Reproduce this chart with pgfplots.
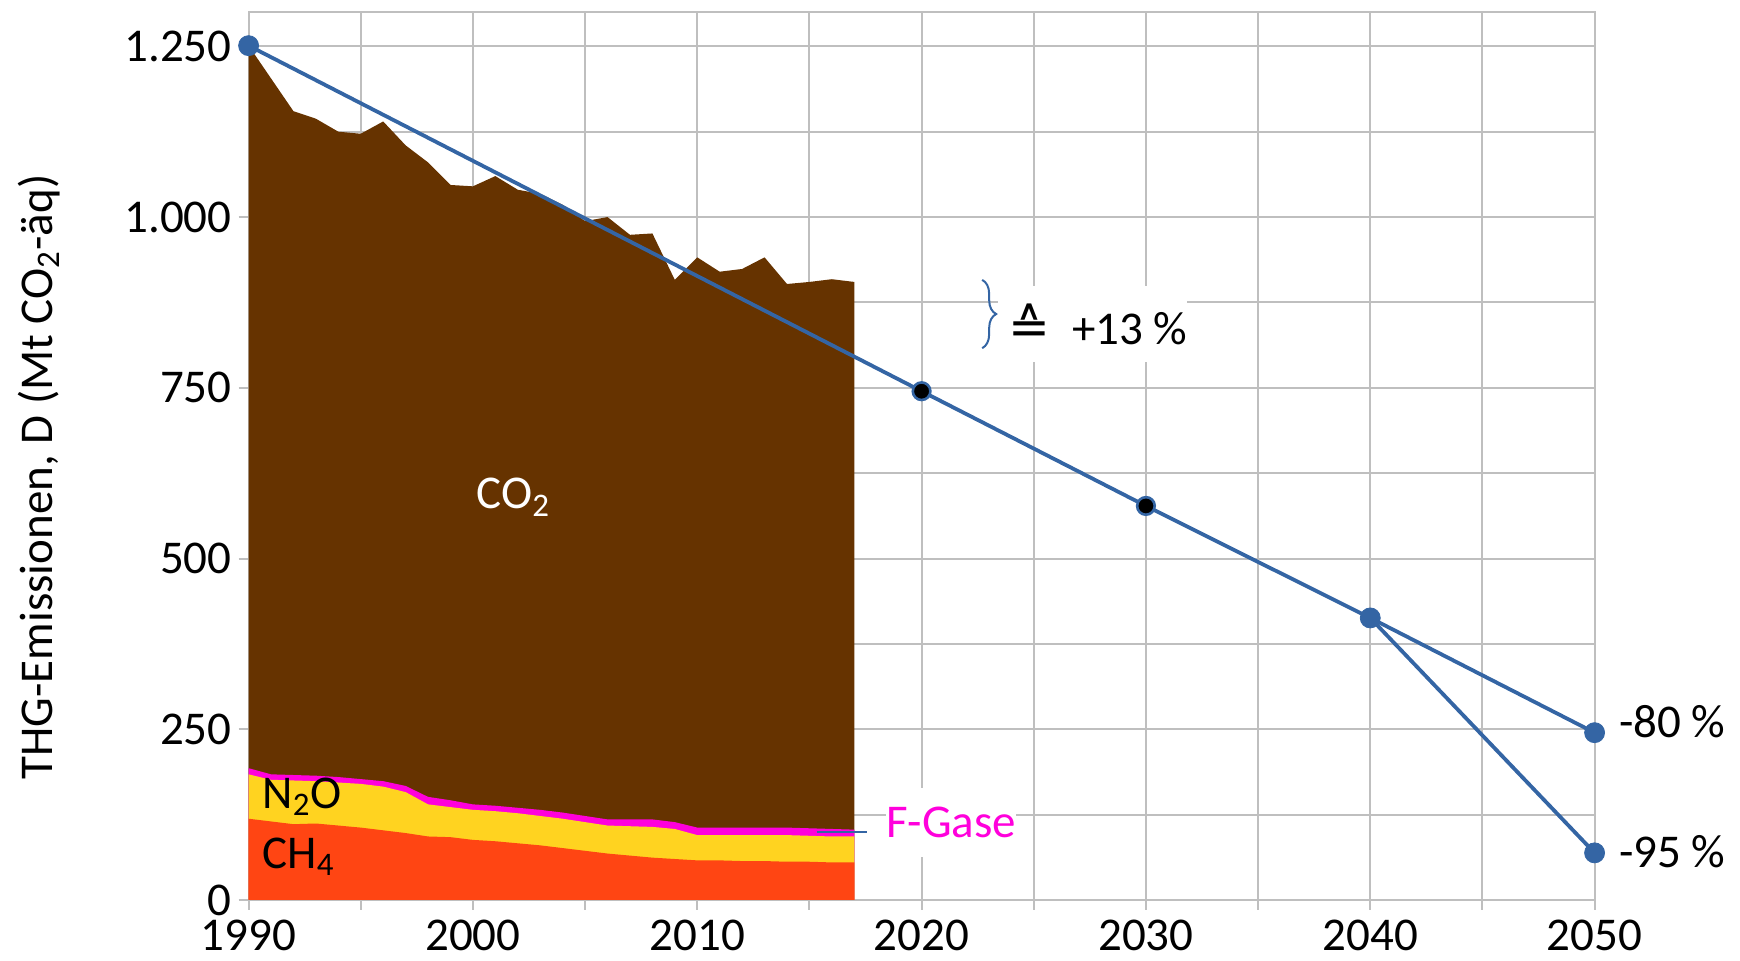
\documentclass[border=0pt]{standalone}
\usepackage{fontspec}
\setmainfont{Carlito}
\newfontfamily\dejavu{DejaVu Sans}
\usepackage{pgfplots}
\pgfplotsset{compat=1.18}
\usepackage{pgfplotstable}
\usetikzlibrary{decorations.pathreplacing}

\definecolor{co2}{RGB}{102,51,0}
\definecolor{ch4}{RGB}{255,69,19}
\definecolor{n2o}{RGB}{255,211,32}
\definecolor{fgas}{RGB}{255,0,220}
\definecolor{tblue}{RGB}{52,101,164}
\definecolor{gridgray}{RGB}{191,191,191}
\newcommand\bigf{\fontsize{23.5}{28}\selectfont}

\pgfplotstableread{
year ch4 n2o fgas co2
1990 119 65 9 1058
1991 115 61 8 1019
1992 111 64 8 972
1993 112 62 8 962
1994 109 63 8 945
1995 106 64 7 945
1996 102 64 8 966
1997 98 60 9 938
1998 93 47 11 929
1999 92 44 10 901
2000 88 44 8 905
2001 86 44 8 922
2002 83 44 8 905
2003 80 43 9 902
2004 76 43 9 890
2005 72 42 9 871
2006 68 41 9 882
2007 65 43 10 856
2008 62 45 11 858
2009 60 44 10 794
2010 58 37 11 835
2011 58 37 11 814
2012 57 38 11 818
2013 57 38 11 835
2014 56 39 11 796
2015 56 38 11 800
2016 55 38 11 805
2017 55 38 10 802
}\emis

\pgfplotstableread{
year val
1990 1251
2020 745
2030 577
2040 413
2050 245
}\target

\pgfplotstableread{
year val
2040 413
2050 69
}\branch

\begin{document}
\begin{tikzpicture}[font=\bigf]
\useasboundingbox (-124.3pt,-30.5pt) rectangle (745.7pt,450pt);
\begin{axis}[
  at={(0,0)}, anchor=south west,
  scale only axis, width=673pt, height=443.9pt,
  xmin=1990, xmax=2050, ymin=0, ymax=1300,
  xtick={1990,2000,...,2050}, minor xtick={1995,2005,...,2045},
  ytick={0,250,...,1250}, minor ytick={125,375,...,1125},
  grid=both,
  major grid style={gridgray, line width=1pt},
  minor grid style={gridgray, line width=1pt},
  axis line style={gridgray, line width=1pt},
  tick align=outside, xtick pos=bottom, ytick pos=left,
  major tick length=5pt, minor tick length=5pt,
  tick style={gridgray, line width=1pt},
  minor y tick style={draw=none},
  tick label style={font=\bigf, text=black},
  /pgf/number format/assume math mode=true,
  /pgf/number format/1000 sep={.},
  xticklabel style={/pgf/number format/1000 sep={}, yshift=-1.3pt},
  clip=false,
]
\addplot[fill=co2, draw=none] table[x=year, y expr=\thisrow{ch4}+\thisrow{n2o}+\thisrow{fgas}+\thisrow{co2}] {\emis} \closedcycle;
\addplot[fill=fgas, draw=none] table[x=year, y expr=\thisrow{ch4}+\thisrow{n2o}+\thisrow{fgas}] {\emis} \closedcycle;
\addplot[fill=n2o, draw=none] table[x=year, y expr=\thisrow{ch4}+\thisrow{n2o}] {\emis} \closedcycle;
\addplot[fill=ch4, draw=none] table[x=year, y=ch4] {\emis} \closedcycle;

\addplot[tblue, line width=1.9pt] table[x=year, y=val] {\target};
\addplot[tblue, line width=1.9pt] table[x=year, y=val] {\branch};
\addplot[only marks, mark=*, mark size=5pt, mark options={fill=tblue, draw=tblue}] coordinates {(1990,1251) (2040,413) (2050,245) (2050,69)};
\addplot[only marks, mark=*, mark size=4.4pt, mark options={fill=black, draw=tblue, line width=1.3pt}] coordinates {(2020,745) (2030,577)};

\node[text=white] at (axis cs:2001.8,590) {CO\textsubscript{2}};
\node[anchor=west, inner sep=0pt] at (axis cs:1990.6,151) {N\textsubscript{2}O};
\node[anchor=west, inner sep=0pt] at (axis cs:1990.6,63) {CH\textsubscript{4}};

\draw[tblue, line width=1pt] (axis cs:2015.33,100) -- (axis cs:2017.58,100);
\node[anchor=west, fill=white, text=fgas, inner xsep=0pt, minimum height=34.5pt] at (axis cs:2018.4,114) {F-Gase\hspace{9pt}};

\draw[tblue, line width=1pt, decorate, decoration={brace, amplitude=7pt}] (axis cs:2022.7,908) -- (axis cs:2022.7,808);
\node[anchor=west, fill=white, inner xsep=0pt, minimum height=38pt] at (axis cs:2023.4,843) {\hspace{5pt}{\dejavu\fontsize{25}{28}\selectfont ≙}\hspace{11pt}+13 \%\hspace{1pt}};

\node[anchor=west, inner sep=0pt, xshift=12pt, yshift=5.5pt] at (axis cs:2050,245) {-80 \%};
\node[anchor=west, inner sep=0pt, xshift=12pt, yshift=0.5pt] at (axis cs:2050,69) {-95 \%};

\node[rotate=90] at (axis description cs:-0.1557,0.4765) {THG-Emissionen, D (Mt CO\textsubscript{2}-äq)};
\end{axis}
\end{tikzpicture}
\end{document}
